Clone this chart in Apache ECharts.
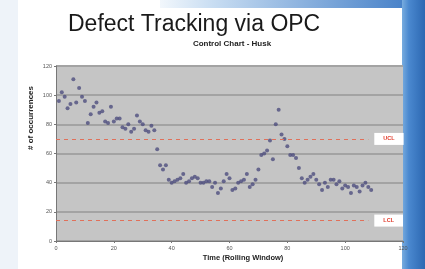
<!DOCTYPE html>
<html><head><meta charset="utf-8">
<script src="https://cdn.jsdelivr.net/npm/echarts@6/dist/echarts.min.js"></script>
<style>html,body{margin:0;padding:0;background:#fff}#c{width:425px;height:269px}</style>
</head><body><div id="c"></div>
<script>
// Time index (rolling window) and defect counts
const timeIdx = [1,2,3,4,5,6,7,8,9,10,11,12,13,14,15,16,17,18,19,20,21,22,23,24,25,26,27,28,29,30,31,32,33,34,35,36,37,38,39,40,41,42,43,44,45,46,47,48,49,50,51,52,53,54,55,56,57,58,59,60,61,62,63,64,65,66,67,68,69,70,71,72,73,74,75,76,77,78,79,80,81,82,83,84,85,86,87,88,89,90,91,92,93,94,95,96,97,98,99,100,101,102,103,104,105,106,107,108,109];
const occurrences = [96,102,99,91,94,111,95,105,99,96,81,87,92,95,88,89,82,81,92,82,84,84,78,77,80,75,77,86,82,80,76,75,79,76,63,52,49,52,42,40,41,42,43,46,40,41,43,44,43,40,40,41,41,37,40,33,36,41,46,43,35,36,40,41,42,46,37,39,42,49,59,60,62,69,56,80,90,73,70,65,59,59,57,50,43,40,42,44,46,42,39,35,40,37,42,42,39,41,36,38,37,33,38,37,34,38,40,37,35];
const yTicks = [0,20,40,60,80,100,120];
const xTicks = [0,20,40,60,80,100,120];
const UCL = 70;
const LCL = 14;
const UCL_LABEL = 'UCL';
const LCL_LABEL = 'LCL';
const lastX = 108;

const points = timeIdx.map((t,i)=>[t, occurrences[i]]);
const chart = echarts.init(document.getElementById('c'));
const ff = '"Liberation Sans", Arial, sans-serif';
chart.setOption({
  animation:false,
  backgroundColor:'#ffffff',
  graphic:[
    {type:'rect', z:-10, shape:{x:0,y:0,width:18,height:269}, style:{fill:'#eef3f9'}},
    {type:'rect', z:-10, shape:{x:160,y:0,width:265,height:8}, style:{fill:new echarts.graphic.LinearGradient(0,0,1,0,[{offset:0,color:'#f2f7fc'},{offset:0.2,color:'#c8ddf2'},{offset:1,color:'#3a78c4'}])}},
    {type:'rect', z:-10, shape:{x:402,y:0,width:23,height:269}, style:{fill:new echarts.graphic.LinearGradient(0,0,1,0,[{offset:0,color:'#78acdf'},{offset:0.3,color:'#4a88cf'},{offset:1,color:'#2c68b2'}])}},
    {type:'text', left:68, top:13, style:{text:'Defect Tracking via OPC', font:'23px "Liberation Sans", Arial, sans-serif', fill:'#1a1a1a'}},
    {type:'text', x:232, y:44, style:{text:'Control Chart - Husk', font:'bold 8px "Liberation Sans", Arial, sans-serif', fill:'#222', align:'center', verticalAlign:'middle'}},
    {type:'text', x:31, y:118, rotation:Math.PI/2, style:{text:'# of occurrences', font:'bold 8px "Liberation Sans", Arial, sans-serif', fill:'#222', align:'center', verticalAlign:'middle'}},
    {type:'text', x:243, y:258, style:{text:'Time (Rolling Window)', font:'bold 7.5px "Liberation Sans", Arial, sans-serif', fill:'#222', align:'center', verticalAlign:'middle'}}
  ],
  grid:{left:56, right:22, top:66, bottom:28, show:true, backgroundColor:'#c5c5c5', borderWidth:0},
  xAxis:{type:'value', min:xTicks[0], max:xTicks[xTicks.length-1], interval:20,
    axisLine:{show:true, onZero:false, lineStyle:{color:'#777', width:1}},
    axisTick:{show:true, length:2, lineStyle:{color:'#777'}},
    axisLabel:{fontSize:5.5, color:'#555', margin:4, fontFamily:ff},
    splitLine:{show:false}},
  yAxis:{type:'value', min:yTicks[0], max:yTicks[yTicks.length-1], interval:20,
    axisLine:{show:true, lineStyle:{color:'#777', width:1}},
    axisTick:{show:true, length:2, lineStyle:{color:'#777'}},
    axisLabel:{fontSize:5.5, color:'#555', margin:4, fontFamily:ff},
    splitLine:{show:true, lineStyle:{color:'#a3a3a3', width:2}}},
  series:[{
    type:'scatter', data:points, symbolSize:4,
    itemStyle:{color:'#4d4d7e'},
    markLine:{silent:true, symbol:['none','none'],
      lineStyle:{type:[4,4], color:'#e0705a', width:1},
      label:{show:true, position:'end', distance:6, color:'#e03a2a', fontSize:5.5, fontWeight:'bold', backgroundColor:'#ffffff', padding:[3,9,3,9], fontFamily:ff, formatter:p=>p.name},
      data:[
        [{name:UCL_LABEL, coord:[0,UCL]},{coord:[lastX,UCL]}],
        [{name:LCL_LABEL, coord:[0,LCL]},{coord:[lastX,LCL]}]
      ]}
  }]
});
</script></body></html>
